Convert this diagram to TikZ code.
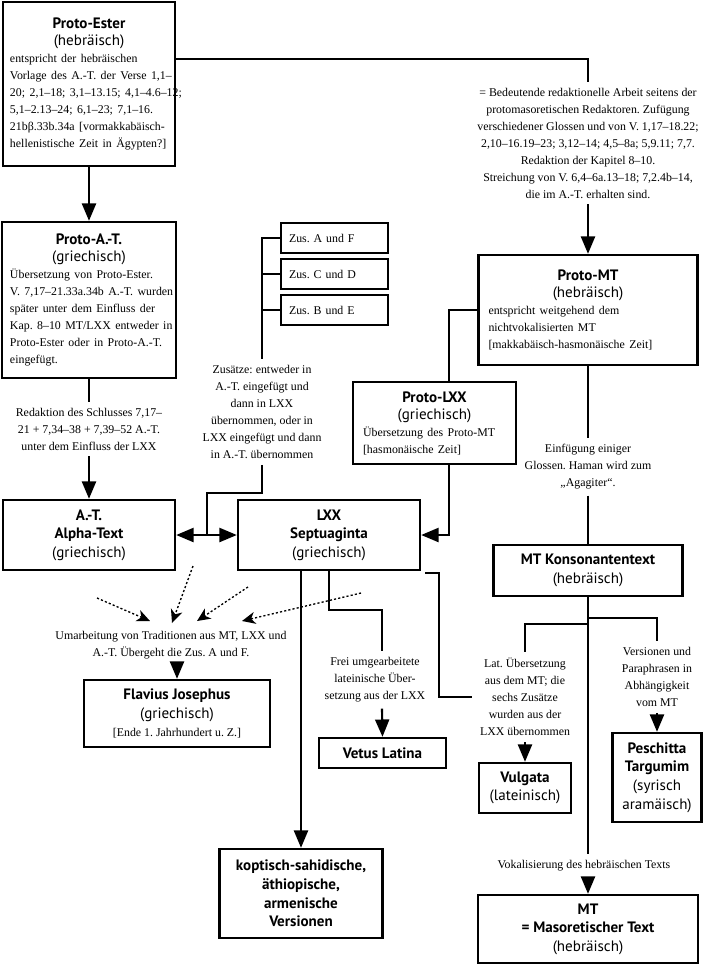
\documentclass[tikz,border=0pt]{standalone}
\usepackage{fontspec}
\setmainfont{Liberation Serif}
\setsansfont{PT Sans}
\usetikzlibrary{arrows.meta}
\frenchspacing
\newdimen\PX \PX=0.75pt
\newcommand\hdf{\fontsize{11.3}{12.75}\selectfont\sffamily}
\newcommand\bdf{\fontsize{8.9}{12.75}\selectfont\rmfamily}
\newcommand\BL[1]{\mbox{#1}}
\begin{document}
\begin{tikzpicture}[x=0.75pt,y=-0.75pt,
  box/.style={draw,line width=1.8pt,inner ysep=0pt,align=left,anchor=center},
  hbox/.style={draw,line width=1.8pt,inner sep=0pt,align=center,
    font={\fontsize{11.3}{13.9}\selectfont\sffamily}},
  zbox/.style={draw,line width=1.8pt,inner ysep=0pt,inner xsep=8\PX,
    minimum width=107\PX,minimum height=30\PX,text width=91\PX,align=left,font=\bdf},
  anno/.style={inner sep=6\PX,align=center,font=\bdf},
  ln/.style={line width=1.6pt},
  tri/.style={ln,-{Triangle[length=13pt,width=10.5pt]}},
  dtri/.style={ln,{Triangle[length=13pt,width=10.5pt]}-{Triangle[length=13pt,width=10.5pt]}},
  dotarr/.style={line width=1pt,dash pattern=on 1.6pt off 1.6pt,-{Stealth[length=10pt,width=9pt,inset=3pt]}}]
\useasboundingbox (0,0) rectangle (709,965);

% ---- boxes with body text
\node[box,minimum width=172\PX,minimum height=164\PX,text width=158\PX,inner xsep=7\PX] (pe) at (89,84)
 {{\centering\hdf\textbf{Proto-Ester}\\(hebräisch)\par}\bdf
 \BL{entspricht der hebräischen}\\\BL{Vorlage des A.-T. der Verse 1,1–}\\\BL{20; 2,1–18; 3,1–13.15; 4,1–4.6–12;}\\\BL{5,1–2.13–24; 6,1–23; 7,1–16.}\\\BL{21bβ.33b.34a [vormakkabäisch-}\\\BL{hellenistische Zeit in Ägypten?]}\par\vspace{5\PX}};

\node[box,minimum width=172\PX,minimum height=156\PX,text width=158\PX,inner xsep=8\PX] (pat) at (89,300)
 {{\centering\hdf\textbf{Proto-A.-T.}\\(griechisch)\par}\bdf
 \BL{Übersetzung von Proto-Ester.}\\\BL{V. 7,17–21.33a.34b A.-T. wurden}\\\BL{später unter dem Einfluss der}\\\BL{Kap. 8–10 MT/LXX entweder in}\\\BL{Proto-Ester oder in Proto-A.-T.}\\\BL{eingefügt.}\par\vspace{5\PX}};

\node[box,minimum width=219\PX,minimum height=110\PX,text width=199\PX,inner xsep=10\PX] (pmt) at (588,310)
 {{\centering\hdf\textbf{Proto-MT}\\(hebräisch)\par}\bdf
 \BL{entspricht weitgehend dem}\\\BL{nichtvokalisierten MT}\\\BL{[makkabäisch-hasmonäische Zeit]}\par\vspace{4\PX}};

\node[box,minimum width=163\PX,minimum height=82\PX,text width=143\PX,inner xsep=10\PX] (plxx) at (434.5,423)
 {{\centering\hdf\textbf{Proto-LXX}\\(griechisch)\par}\bdf
 \BL{Übersetzung des Proto-MT}\\\BL{[hasmonäische Zeit]}\par\vspace{2\PX}};

% ---- Zusätze boxes
\node[zbox] (zusaf) at (334.5,238) {Zus. A und F};
\node[zbox] (zuscd) at (334.5,274) {Zus. C und D};
\node[zbox] (zusbe) at (334.5,310) {Zus. B und E};

% ---- heading boxes
\node[hbox,minimum width=172\PX,minimum height=70\PX] (at) at (89,535)
 {\textbf{A.-T.}\\\textbf{Alpha-Text}\\(griechisch)};
\node[hbox,minimum width=182\PX,minimum height=70\PX] (lxx) at (329,535)
 {\textbf{LXX}\\\textbf{Septuaginta}\\(griechisch)};
\node[hbox,minimum width=189\PX,minimum height=51\PX] (mtk) at (588,570.5)
 {\textbf{MT Konsonantentext}\\(hebräisch)};
\node[hbox,minimum width=186\PX,minimum height=67\PX] (jos) at (177,713.5)
 {\textbf{Flavius Josephus}\\(griechisch)\\{\bdf [Ende 1. Jahrhundert u. Z.]}};
\node[hbox,minimum width=127\PX,minimum height=30\PX] (vl) at (382.5,753)
 {\textbf{Vetus Latina}};
\node[hbox,minimum width=92\PX,minimum height=50\PX] (vul) at (525,788)
 {\textbf{Vulgata}\\(lateinisch)};
\node[hbox,minimum width=89\PX,minimum height=89\PX] (pesh) at (657,777.5)
 {\textbf{Peschitta}\\\textbf{Targumim}\\(syrisch\\aramäisch)};
\node[hbox,minimum width=163\PX,minimum height=89\PX] (kop) at (301,893.5)
 {\textbf{koptisch-sahidische,}\\\textbf{äthiopische,}\\\textbf{armenische}\\\textbf{Versionen}};
\node[hbox,minimum width=220\PX,minimum height=68\PX] (mt) at (588,929)
 {\textbf{MT}\\\textbf{= Masoretischer Text}\\(hebräisch)};

% ---- annotations
\node[anno] (anno1) at (588,143)
 {= Bedeutende redaktionelle Arbeit seitens der\\protomasoretischen Redaktoren. Zufügung\\verschiedener Glossen und von V. 1,17–18.22;\\2,10–16.19–23; 3,12–14; 4,5–8a; 5,9.11; 7,7.\\Redaktion der Kapitel 8–10.\\Streichung von V. 6,4–6a.13–18; 7,2.4b–14,\\die im A.-T. erhalten sind.};
\node[anno] (annred) at (89,429)
 {Redaktion des Schlusses 7,17–\\21 + 7,34–38 + 7,39–52 A.-T.\\unter dem Einfluss der LXX};
\node[anno] (zustxt) at (262,412)
 {Zusätze: entweder in\\A.-T. eingefügt und\\dann in LXX\\übernommen, oder in\\LXX eingefügt und dann\\in A.-T. übernommen};
\node[anno] (anno2) at (588,467)
 {Einfügung einiger\\Glossen. Haman wird zum\\„Agagiter“.};
\node[anno] (anno3) at (657,677)
 {Versionen und\\Paraphrasen in\\Abhängigkeit\\vom MT};
\node[anno] (anno4) at (525,697)
 {Lat. Übersetzung\\aus dem MT; die\\sechs Zusätze\\wurden aus der\\LXX übernommen};
\node[anno] (anno5) at (375,680)
 {Frei umgearbeitete\\lateinische Über-\\setzung aus der LXX};
\node[anno] (anno6) at (171,645)
 {Umarbeitung von Traditionen aus MT, LXX und\\A.-T. Übergeht die Zus. A und F.};
\node[anno] (anno7) at (584,866)
 {Vokalisierung des hebräischen Texts};

% ---- coordinates
\coordinate (c1) at (588,59);
\coordinate (c2) at (449,310);
\coordinate (bt) at (262,238);
\coordinate (j) at (207,535);
\coordinate (j2) at (207,493);
\coordinate (r1) at (588,618);
\coordinate (r2) at (588,624);
\coordinate (v1) at (382,610);
\coordinate (l1) at (425,573);
\coordinate (l2) at (439,697);
\coordinate (l3) at (472,697);
\coordinate (d1s) at (97,598);  \coordinate (d1e) at (150,621);
\coordinate (d2s) at (193,566); \coordinate (d2e) at (172,623);
\coordinate (d3s) at (248,587); \coordinate (d3e) at (197,621);
\coordinate (d4s) at (361,593); \coordinate (d4e) at (242,621);

% ---- connectors
\draw[tri] (pe.south) -- (pat.north);
\draw[ln] (pe.east |- c1) -- (c1) -- (anno1.north);
\draw[tri] (anno1.south) -- (pmt.north);
\draw[ln] (pat.south) -- (annred.north);
\draw[tri] (annred.south) -- (at.north);

\draw[ln] (zusaf.west) -- (bt) -- (zustxt.north);
\draw[ln] (zuscd.west) -- (zuscd.west -| bt);
\draw[ln] (zusbe.west) -- (zusbe.west -| bt);
\draw[dtri] (at.east) -- (lxx.west);
\draw[ln] (zustxt.south) |- (j2) -- (j);

\draw[ln] (pmt.west) -- (c2) -- (c2 |- plxx.north);
\draw[tri] (c2 |- plxx.south) |- (lxx.east);

\draw[ln] (pmt.south) -- (anno2.north);
\draw[ln] (anno2.south) -- (mtk.north);
\draw[ln] (mtk.south) -- (mtk.south |- anno7.north);
\draw[tri] (mt.north |- anno7.south) -- (mt.north);
\draw[ln] (r1) -| (anno3.north);
\draw[tri] (anno3.south) -- (pesh.north);
\draw[ln] (r2) -| (anno4.north);
\draw[tri] (anno4.south) -- (vul.north);

\draw[tri] (kop.north |- lxx.south) -- (kop.north);
\draw[ln] (lxx.south) |- (v1) -- (v1 |- anno5.north);
\draw[tri] (v1 |- anno5.south) -- (vl.north);
\draw[ln] (l1) -| (l2) -- (l3);

\draw[dotarr] (d1s) -- (d1e);
\draw[dotarr] (d2s) -- (d2e);
\draw[dotarr] (d3s) -- (d3e);
\draw[dotarr] (d4s) -- (d4e);
\draw[tri] (jos.north |- anno6.south) -- (jos.north);
\end{tikzpicture}
\end{document}
